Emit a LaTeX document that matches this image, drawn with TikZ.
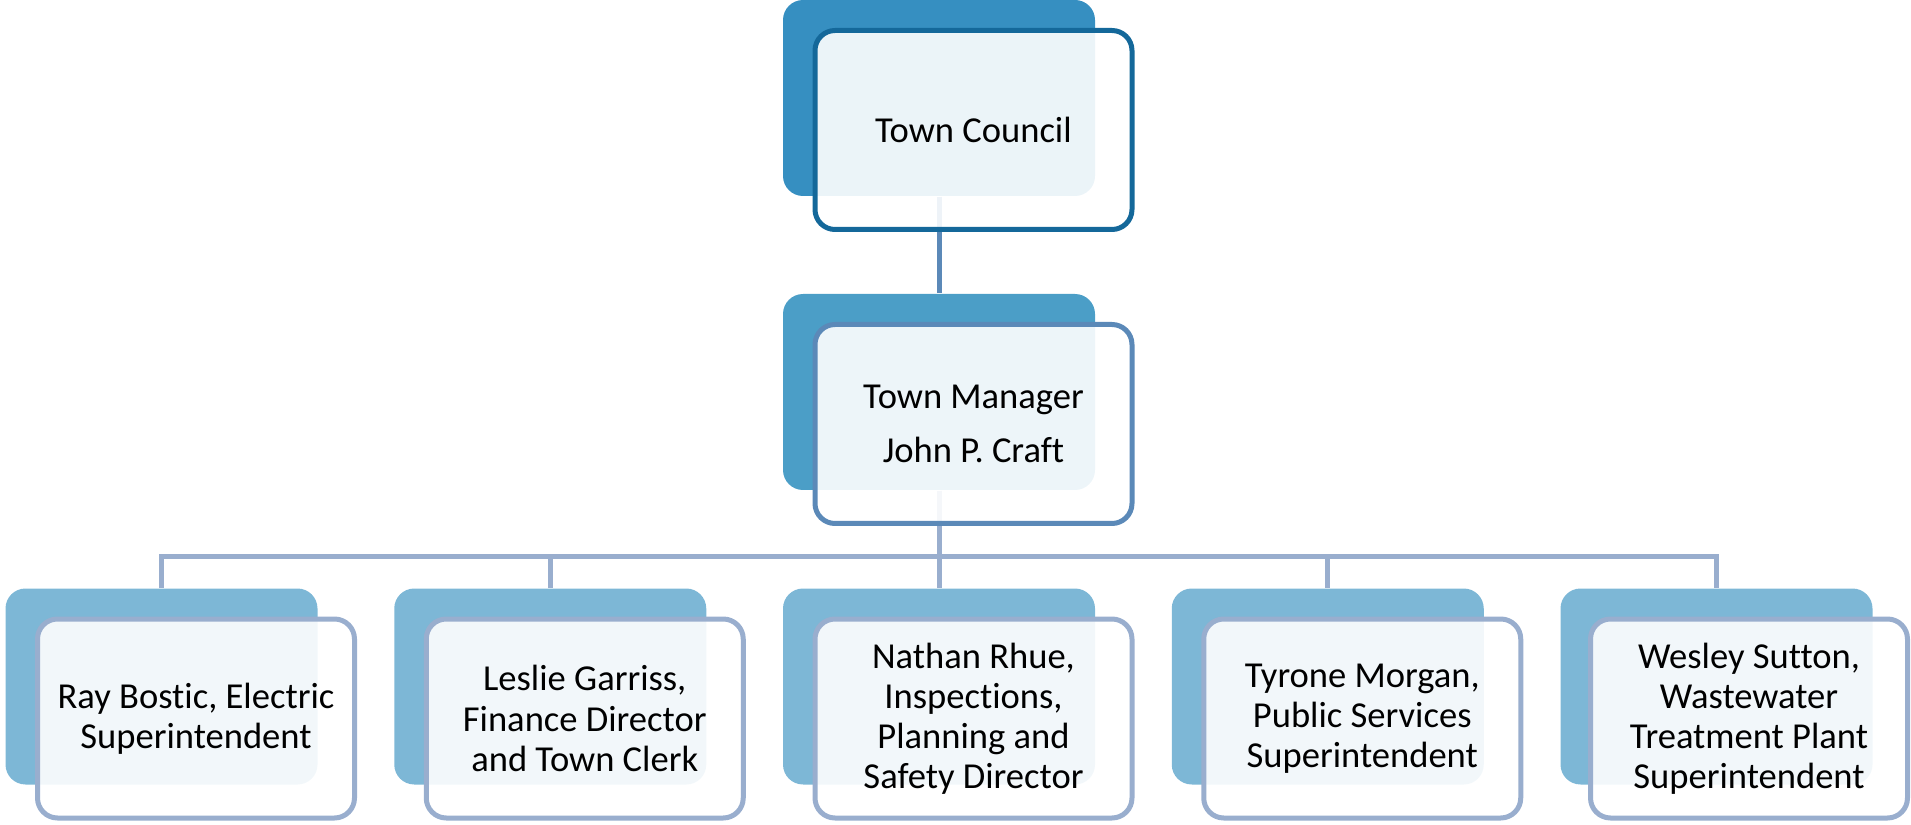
\documentclass[tikz,border=0pt]{standalone}
\usepackage{fontspec}
\setmainfont[Ligatures=NoCommon]{Carlito}
\usepackage{tikz}

\definecolor{CouncilBack}{RGB}{54,143,193}
\definecolor{CouncilLine}{RGB}{20,104,154}
\definecolor{ManagerBack}{RGB}{75,158,199}
\definecolor{ManagerLine}{RGB}{91,137,184}
\definecolor{StaffBack}{RGB}{125,183,214}
\definecolor{StaffLine}{RGB}{153,174,206}

\begin{document}
\begin{tikzpicture}[x=0.1mm, y=-0.1mm,
      back/.style={rectangle, rounded corners=2mm, inner sep=0pt,
         minimum width=31.2mm, minimum height=19.6mm},
      front/.style={rectangle, rounded corners=2mm, inner sep=0pt,
         minimum width=31.7mm, minimum height=19.9mm, line width=0.5mm,
         fill=white, fill opacity=0.9, text opacity=1, align=center,
         font=\fontsize{10.4pt}{11.4pt}\selectfont},
      link/.style={line width=0.5mm}]
         \useasboundingbox (0,0) rectangle (1911,825);

         % shadow boxes
         \node (cb) at (939,98) [back, fill=CouncilBack] {};
         \node (mb) at (939,392) [back, fill=ManagerBack] {};
         \node (b1) at (161.5,686.5) [back, fill=StaffBack] {};
         \node (b2) at (550.25,686.5) [back, fill=StaffBack] {};
         \node (b3) at (939,686.5) [back, fill=StaffBack] {};
         \node (b4) at (1327.75,686.5) [back, fill=StaffBack] {};
         \node (b5) at (1716.5,686.5) [back, fill=StaffBack] {};

         % connectors
         \coordinate (bus) at (939,556);
         \draw [link, draw=ManagerLine] (cb) -- (mb);
         \draw [link, draw=StaffLine] (mb) -- (bus);
         \draw [link, draw=StaffLine] (bus) -| (b1);
         \draw [link, draw=StaffLine] (bus) -| (b2);
         \draw [link, draw=StaffLine] (bus) -| (b3);
         \draw [link, draw=StaffLine] (bus) -| (b4);
         \draw [link, draw=StaffLine] (bus) -| (b5);

         % text boxes
         \node (council) at (973.5,130) [front, draw=CouncilLine] {Town Council};
         \node (manager) at (973.5,424) [front, draw=ManagerLine]
            {Town Manager\\[4.2pt] John P. Craft};
         \node (bostic) at (196,718.5) [front, draw=StaffLine]
            {Ray Bostic, Electric\\ Superintendent};
         \node (garriss) at (584.75,718.5) [front, draw=StaffLine]
            {Leslie Garriss,\\ Finance Director\\ and Town Clerk};
         \node (rhue) at (973.5,718.5) [front, draw=StaffLine]
            {Nathan Rhue,\\ Inspections,\\ Planning and\\ Safety Director};
         \node (morgan) at (1362.25,718.5) [front, draw=StaffLine]
            {Tyrone Morgan,\\ Public Services\\ Superintendent};
         \node (sutton) at (1749,718.5) [front, draw=StaffLine]
            {Wesley Sutton,\\ Wastewater\\ Treatment Plant\\ Superintendent};
      \end{tikzpicture}
\end{document}
